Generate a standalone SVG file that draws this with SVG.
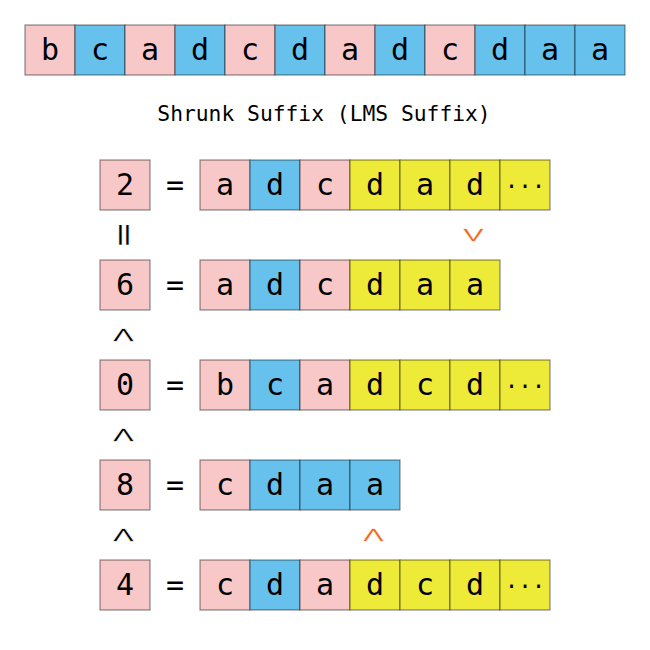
<svg xmlns="http://www.w3.org/2000/svg" width="650" height="650" viewBox="0 0 650 650">
<style>
rect{stroke:#000;stroke-opacity:0.45;stroke-width:1.2}
.p{fill:#f8c8c8}.b{fill:#66c2ec}.y{fill:#eeea38}
text{font-family:"DejaVu Sans Mono","Liberation Mono",monospace;fill:#000}
.t{font-size:30px;text-anchor:middle}
.e{font-size:22.5px;text-anchor:middle}
.h{font-size:21.3px;text-anchor:middle}
.c{stroke:#fff;stroke-width:0.55px}
.q{stroke:#fff;stroke-width:0.3px}
.o{fill:#ee6618}
</style>
<rect width="650" height="650" fill="#fff" style="stroke:none"/>
<g id="sequence">
<rect class="p" x="25" y="25" width="50" height="50"/><text class="t" x="50" y="60">b</text>
<rect class="b" x="75" y="25" width="50" height="50"/><text class="t" x="100" y="60">c</text>
<rect class="p" x="125" y="25" width="50" height="50"/><text class="t" x="150" y="60">a</text>
<rect class="b" x="175" y="25" width="50" height="50"/><text class="t" x="200" y="60">d</text>
<rect class="p" x="225" y="25" width="50" height="50"/><text class="t" x="250" y="60">c</text>
<rect class="b" x="275" y="25" width="50" height="50"/><text class="t" x="300" y="60">d</text>
<rect class="p" x="325" y="25" width="50" height="50"/><text class="t" x="350" y="60">a</text>
<rect class="b" x="375" y="25" width="50" height="50"/><text class="t" x="400" y="60">d</text>
<rect class="p" x="425" y="25" width="50" height="50"/><text class="t" x="450" y="60">c</text>
<rect class="b" x="475" y="25" width="50" height="50"/><text class="t" x="500" y="60">d</text>
<rect class="b" x="525" y="25" width="50" height="50"/><text class="t" x="550" y="60">a</text>
<rect class="b" x="575" y="25" width="50" height="50"/><text class="t" x="600" y="60">a</text>
</g>
<text id="title" class="h" x="324" y="121">Shrunk Suffix (LMS Suffix)</text>
<g id="row2">
<rect class="p" x="100" y="160" width="50" height="50"/><text class="t" x="125" y="195">2</text>
<text class="t" x="175" y="195">=</text>
<rect class="p" x="200" y="160" width="50" height="50"/><text class="t" x="225" y="195">a</text>
<rect class="b" x="250" y="160" width="50" height="50"/><text class="t" x="275" y="195">d</text>
<rect class="p" x="300" y="160" width="50" height="50"/><text class="t" x="325" y="195">c</text>
<rect class="y" x="350" y="160" width="50" height="50"/><text class="t" x="375" y="195">d</text>
<rect class="y" x="400" y="160" width="50" height="50"/><text class="t" x="425" y="195">a</text>
<rect class="y" x="450" y="160" width="50" height="50"/><text class="t" x="475" y="195">d</text>
<rect class="y" x="500" y="160" width="50" height="50"/><text class="e" x="525" y="194">···</text>
</g>
<g id="row6">
<rect class="p" x="100" y="260" width="50" height="50"/><text class="t" x="125" y="295">6</text>
<text class="t" x="175" y="295">=</text>
<rect class="p" x="200" y="260" width="50" height="50"/><text class="t" x="225" y="295">a</text>
<rect class="b" x="250" y="260" width="50" height="50"/><text class="t" x="275" y="295">d</text>
<rect class="p" x="300" y="260" width="50" height="50"/><text class="t" x="325" y="295">c</text>
<rect class="y" x="350" y="260" width="50" height="50"/><text class="t" x="375" y="295">d</text>
<rect class="y" x="400" y="260" width="50" height="50"/><text class="t" x="425" y="295">a</text>
<rect class="y" x="450" y="260" width="50" height="50"/><text class="t" x="475" y="295">a</text>
</g>
<g id="row0">
<rect class="p" x="100" y="360" width="50" height="50"/><text class="t" x="125" y="395">0</text>
<text class="t" x="175" y="395">=</text>
<rect class="p" x="200" y="360" width="50" height="50"/><text class="t" x="225" y="395">b</text>
<rect class="b" x="250" y="360" width="50" height="50"/><text class="t" x="275" y="395">c</text>
<rect class="p" x="300" y="360" width="50" height="50"/><text class="t" x="325" y="395">a</text>
<rect class="y" x="350" y="360" width="50" height="50"/><text class="t" x="375" y="395">d</text>
<rect class="y" x="400" y="360" width="50" height="50"/><text class="t" x="425" y="395">c</text>
<rect class="y" x="450" y="360" width="50" height="50"/><text class="t" x="475" y="395">d</text>
<rect class="y" x="500" y="360" width="50" height="50"/><text class="e" x="525" y="394">···</text>
</g>
<g id="row8">
<rect class="p" x="100" y="460" width="50" height="50"/><text class="t" x="125" y="495">8</text>
<text class="t" x="175" y="495">=</text>
<rect class="p" x="200" y="460" width="50" height="50"/><text class="t" x="225" y="495">c</text>
<rect class="b" x="250" y="460" width="50" height="50"/><text class="t" x="275" y="495">d</text>
<rect class="b" x="300" y="460" width="50" height="50"/><text class="t" x="325" y="495">a</text>
<rect class="b" x="350" y="460" width="50" height="50"/><text class="t" x="375" y="495">a</text>
</g>
<g id="row4">
<rect class="p" x="100" y="560" width="50" height="50"/><text class="t" x="125" y="595">4</text>
<text class="t" x="175" y="595">=</text>
<rect class="p" x="200" y="560" width="50" height="50"/><text class="t" x="225" y="595">c</text>
<rect class="b" x="250" y="560" width="50" height="50"/><text class="t" x="275" y="595">d</text>
<rect class="p" x="300" y="560" width="50" height="50"/><text class="t" x="325" y="595">a</text>
<rect class="y" x="350" y="560" width="50" height="50"/><text class="t" x="375" y="595">d</text>
<rect class="y" x="400" y="560" width="50" height="50"/><text class="t" x="425" y="595">c</text>
<rect class="y" x="450" y="560" width="50" height="50"/><text class="t" x="475" y="595">d</text>
<rect class="y" x="500" y="560" width="50" height="50"/><text class="e" x="525" y="594">···</text>
</g>
<g id="connectors">
<text class="t q" transform="translate(125 235) rotate(90) scale(1.3 1.15)" dominant-baseline="central">=</text>
<text class="t c" transform="translate(125 335) rotate(90) scale(0.8 1.45)" dominant-baseline="central">&lt;</text>
<text class="t c" transform="translate(125 435) rotate(90) scale(0.8 1.45)" dominant-baseline="central">&lt;</text>
<text class="t c" transform="translate(125 535) rotate(90) scale(0.8 1.45)" dominant-baseline="central">&lt;</text>
<text class="t c o" transform="translate(475 235) rotate(90) scale(0.8 1.45)" dominant-baseline="central">&gt;</text>
<text class="t c o" transform="translate(375 535) rotate(90) scale(0.8 1.45)" dominant-baseline="central">&lt;</text>
</g>
</svg>
